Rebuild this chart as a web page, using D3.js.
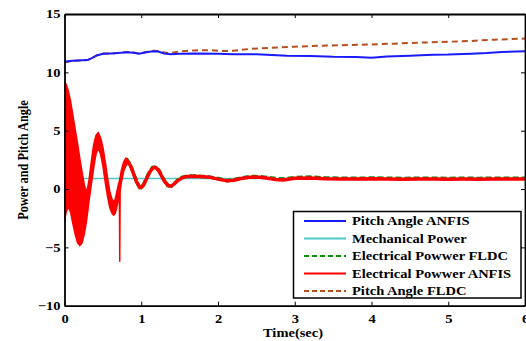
<!DOCTYPE html>
<html>
<head>
<meta charset="utf-8">
<script src="https://cdn.jsdelivr.net/npm/d3@7"></script>
<style>
  html, body { margin: 0; padding: 0; background: #fff; }
  svg { display: block; }
  text { font-family: "Liberation Serif", "Times New Roman", serif; font-weight: bold; }
</style>
</head>
<body>
<svg id="chart" width="526" height="341"></svg>
<script>
// ---- data ----
const xTicks = [0, 1, 2, 3, 4, 5, 6];
const yTicks = [-10, -5, 0, 5, 10, 15];
const seriesNames = ["Pitch Angle ANFIS", "Mechanical Power", "Electrical Powwer FLDC", "Electrical Powwer ANFIS", "Pitch Angle FLDC"];
const xTitle = "Time(sec)";
const yTitle = "Power and Pitch Angle";

// Pitch Angle ANFIS
const pitchAnfisT = [0, 0.05, 0.1, 0.3, 0.35, 0.42, 0.5, 0.6, 0.7, 0.82, 0.9, 0.97, 1.05, 1.15, 1.22, 1.3, 1.38, 1.5, 1.7, 2.0, 2.2, 2.5, 2.7, 2.9, 3.2, 3.5, 3.8, 4.0, 4.2, 4.5, 4.8, 5.0, 5.3, 5.5, 5.7, 6.0];
const pitchAnfisV = [10.9, 10.95, 11.0, 11.05, 11.2, 11.45, 11.6, 11.62, 11.65, 11.72, 11.68, 11.6, 11.7, 11.8, 11.78, 11.62, 11.55, 11.6, 11.62, 11.6, 11.55, 11.55, 11.48, 11.42, 11.4, 11.33, 11.32, 11.25, 11.35, 11.42, 11.5, 11.52, 11.6, 11.65, 11.75, 11.8];

// Pitch Angle FLDC
const pitchFldcT = [0, 0.1, 0.3, 0.35, 0.42, 0.5, 0.6, 0.7, 0.82, 0.9, 0.97, 1.05, 1.15, 1.22, 1.3, 1.38, 1.5, 1.7, 1.9, 2.05, 2.2, 2.43, 2.7, 3.0, 3.3, 3.6, 3.95, 4.3, 4.6, 4.9, 5.26, 5.6, 6.0];
const pitchFldcV = [10.85, 10.98, 11.05, 11.2, 11.45, 11.62, 11.6, 11.68, 11.75, 11.7, 11.62, 11.72, 11.85, 11.82, 11.7, 11.65, 11.8, 11.88, 11.9, 11.82, 11.85, 12.02, 12.1, 12.2, 12.27, 12.32, 12.38, 12.46, 12.54, 12.6, 12.68, 12.8, 12.9];

// Mechanical Power
const mechT = [0, 6];
const mechV = [0.9, 0.9];

// Electrical Powwer ANFIS: early high-frequency band (upper / lower envelope)
const bandT  = [0, 0.02, 0.05, 0.08, 0.11, 0.14, 0.17, 0.20, 0.23, 0.26, 0.29, 0.32, 0.35, 0.38, 0.41, 0.44, 0.47, 0.50, 0.53, 0.56, 0.59, 0.62, 0.64, 0.66, 0.68, 0.70, 0.715, 0.72, 0.725, 0.74, 0.77, 0.80, 0.82];
const bandHi = [9.15, 9.0, 8.4, 7.5, 6.3, 5.1, 3.9, 2.6, 1.4, 0.3, -0.3, 0.8, 2.4, 3.8, 4.6, 4.85, 4.4, 3.6, 2.4, 1.0, -0.2, -0.9, -1.1, -0.9, -0.3, 0.3, 0.7, 0.9, 1.0, 1.6, 2.3, 2.65, 2.6];
const bandLo = [-2.8, -2.0, -1.5, -2.0, -3.0, -3.9, -4.6, -4.85, -4.6, -3.8, -2.6, -1.0, 0.4, 1.8, 3.0, 3.5, 3.0, 2.0, 0.6, -0.6, -1.6, -2.1, -2.25, -2.1, -1.6, -0.9, -0.5, -6.2, -0.2, 0.5, 1.5, 2.0, 2.15];
// Electrical Powwer ANFIS: after the band settles
const elecAnfisT = [0.8, 0.82, 0.86, 0.9, 0.94, 0.98, 1.0, 1.03, 1.07, 1.11, 1.15, 1.19, 1.23, 1.27, 1.31, 1.35, 1.39, 1.43, 1.48, 1.53, 1.6, 1.7, 1.8, 1.9, 2.0, 2.12, 2.2, 2.3, 2.43, 2.55, 2.65, 2.75, 2.85, 3.0, 3.2, 3.4, 3.6, 3.8, 4.0, 4.2, 4.4, 4.6, 4.8, 5.0, 5.2, 5.4, 5.6, 5.8, 6.0];
const elecAnfisV = [2.3, 2.4, 2.0, 1.3, 0.6, 0.15, 0.12, 0.35, 0.9, 1.45, 1.8, 1.85, 1.55, 1.05, 0.6, 0.3, 0.25, 0.45, 0.75, 0.95, 1.08, 1.1, 1.05, 1.0, 0.85, 0.7, 0.75, 0.9, 1.02, 1.0, 0.92, 0.82, 0.78, 0.92, 0.95, 0.88, 0.86, 0.85, 0.87, 0.86, 0.84, 0.85, 0.86, 0.84, 0.85, 0.84, 0.85, 0.86, 0.85];
// Electrical Powwer FLDC
const elecFldcT = [0.8, 0.82, 0.86, 0.9, 0.94, 0.98, 1.0, 1.03, 1.07, 1.11, 1.15, 1.19, 1.23, 1.27, 1.31, 1.35, 1.39, 1.43, 1.48, 1.53, 1.6, 1.7, 1.8, 1.9, 2.0, 2.12, 2.2, 2.3, 2.43, 2.55, 2.65, 2.75, 2.85, 3.0, 3.2, 3.4, 3.6, 3.8, 4.0, 4.2, 4.4, 4.6, 4.8, 5.0, 5.2, 5.4, 5.6, 5.8, 6.0];
const elecFldcV = [2.35, 2.45, 2.05, 1.35, 0.62, 0.12, 0.1, 0.38, 0.95, 1.5, 1.85, 1.9, 1.6, 1.1, 0.62, 0.28, 0.22, 0.45, 0.8, 1.0, 1.12, 1.12, 1.08, 1.02, 0.9, 0.72, 0.78, 0.95, 1.08, 1.05, 0.98, 0.9, 0.86, 0.99, 1.02, 0.95, 0.93, 0.92, 0.94, 0.93, 0.91, 0.92, 0.93, 0.91, 0.92, 0.91, 0.92, 0.93, 0.92];

// ---- layout ----
const svg = d3.select("#chart");
const L = 64.5, R = 525, T = 14, B = 305.7;
const FS = 12.3;      // font size (glyph height)
const SX = 1.18;      // horizontal stretch of the reference's text
const x = d3.scaleLinear().domain([0, 6]).range([L, R]);
const y = d3.scaleLinear().domain([-10, 15]).range([B, T]);

const colors = {
  pitchAnfis: "#1a1aff",
  mech: "#4cc9c9",
  elecFldc: "#0a8a0a",
  elecAnfis: "#ff0000",
  pitchFldc: "#b4501e"
};

svg.append("defs").append("clipPath").attr("id", "clip")
  .append("rect").attr("x", L).attr("y", T).attr("width", R - L).attr("height", B - T);

const g = svg.append("g").attr("clip-path", "url(#clip)");
const zipLine = (ts, vs) => ts.map((t, i) => [t, vs[i]]);
const line = d3.line().x(d => x(d[0])).y(d => y(d[1]));

// mechanical power
g.append("path").datum(zipLine(mechT, mechV)).attr("d", line)
  .attr("fill", "none").attr("stroke", colors.mech).attr("stroke-width", 1.5);

// FLDC electrical power (under ANFIS)
g.append("path").datum(zipLine(elecFldcT, elecFldcV)).attr("d", line)
  .attr("fill", "none").attr("stroke", colors.elecFldc).attr("stroke-width", 3.5)
  .attr("stroke-dasharray", "6,3");

// ANFIS electrical power band + line
const band = bandT.map((t, i) => ({ t, hi: bandHi[i], lo: bandLo[i] }));
const area = d3.area().x(d => x(d.t)).y0(d => y(d.lo)).y1(d => y(d.hi));
g.append("path").datum(band).attr("d", area)
  .attr("fill", colors.elecAnfis).attr("stroke", colors.elecAnfis).attr("stroke-width", 1.5)
  .attr("stroke-linejoin", "round");
g.append("path").datum(zipLine(elecAnfisT, elecAnfisV)).attr("d", line)
  .attr("fill", "none").attr("stroke", colors.elecAnfis).attr("stroke-width", 3.5)
  .attr("stroke-linejoin", "round");

// pitch angles
g.append("path").datum(zipLine(pitchFldcT, pitchFldcV)).attr("d", line)
  .attr("fill", "none").attr("stroke", colors.pitchFldc).attr("stroke-width", 2)
  .attr("stroke-dasharray", "6,4");
g.append("path").datum(zipLine(pitchAnfisT, pitchAnfisV)).attr("d", line)
  .attr("fill", "none").attr("stroke", colors.pitchAnfis).attr("stroke-width", 2);

// ---- axes ----
const axisStyle = sel => {
  sel.selectAll(".domain").attr("stroke", "#000").attr("stroke-width", 1.8);
  sel.selectAll(".tick line").attr("stroke", "#000").attr("stroke-width", 1);
  sel.selectAll("text").attr("font-family", '"Liberation Serif", serif')
    .attr("font-weight", "bold").attr("font-size", FS).attr("fill", "#000");
};
const gx = svg.append("g").attr("transform", `translate(0,${B})`)
  .call(d3.axisBottom(x).tickValues(xTicks).tickFormat(d3.format("d")).tickSize(-4).tickSizeOuter(0).tickPadding(9))
  .call(axisStyle);
gx.selectAll(".tick text").attr("transform", `scale(${SX},1)`);

svg.append("g").attr("transform", `translate(0,${T})`)
  .call(d3.axisTop(x).tickValues(xTicks).tickFormat("").tickSize(-4).tickSizeOuter(0))
  .call(axisStyle);

const gy = svg.append("g").attr("transform", `translate(${L},0)`)
  .call(d3.axisLeft(y).tickValues(yTicks).tickFormat(d3.format("d")).tickSize(-4).tickSizeOuter(0).tickPadding(4))
  .call(axisStyle);
gy.selectAll(".tick text").attr("x", -4 / SX).attr("transform", `scale(${SX},1)`);

svg.append("g").attr("transform", `translate(${R},0)`)
  .call(d3.axisRight(y).tickValues(yTicks).tickFormat("").tickSize(-4).tickSizeOuter(0))
  .call(axisStyle);

// axis titles
svg.append("text").attr("transform", `translate(293,337) scale(${SX},1)`).attr("text-anchor", "middle")
  .attr("font-size", FS).text(xTitle);
svg.append("text").attr("transform", `translate(27.5,160) rotate(-90) scale(1,${SX})`).attr("text-anchor", "middle")
  .attr("font-size", FS).text(yTitle);

// ---- legend ----
const legendItems = [
  { name: seriesNames[0], color: colors.pitchAnfis, dash: null },
  { name: seriesNames[1], color: colors.mech, dash: null },
  { name: seriesNames[2], color: colors.elecFldc, dash: "5,3" },
  { name: seriesNames[3], color: colors.elecAnfis, dash: null },
  { name: seriesNames[4], color: colors.pitchFldc, dash: "5,3" }
];
const lg = svg.append("g");
lg.append("rect").attr("x", 293.5).attr("y", 211.5).attr("width", 227.5).attr("height", 86.5)
  .attr("fill", "#fff").attr("stroke", "#000").attr("stroke-width", 1.5);
legendItems.forEach((d, i) => {
  const yy = 221 + i * 17.5;
  lg.append("line").attr("x1", 304).attr("x2", 346).attr("y1", yy).attr("y2", yy)
    .attr("stroke", d.color).attr("stroke-width", 1.8).attr("stroke-dasharray", d.dash);
  lg.append("text").attr("transform", `translate(352,${yy + 4.3}) scale(${SX},1)`)
    .attr("font-size", FS).text(d.name);
});
</script>
</body>
</html>
